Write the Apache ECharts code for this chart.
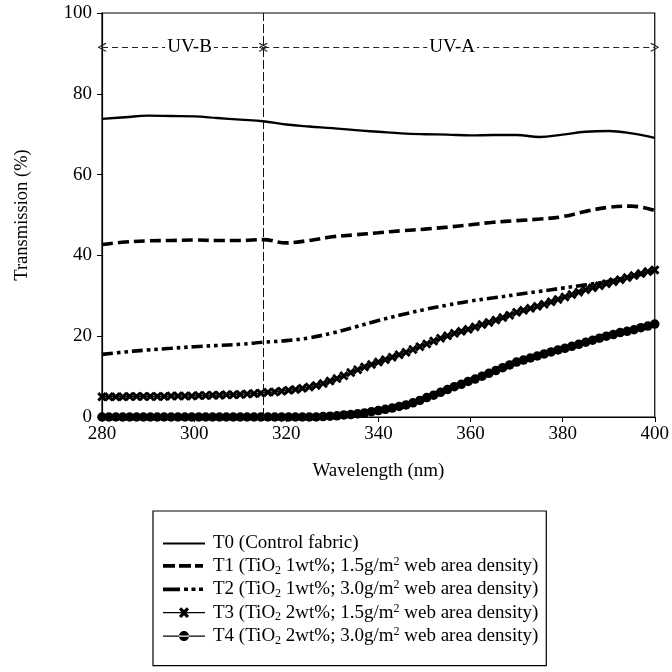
<!DOCTYPE html>
<html>
<head>
<meta charset="utf-8">
<script src="https://cdn.jsdelivr.net/npm/echarts@6/dist/echarts.min.js"></script>
<style>html,body{margin:0;padding:0;background:#fff;}#c{width:672px;height:672px;}</style>
</head>
<body>
<div id="c"></div>
<script>
// wavelengths (nm)
var wl5 = [280,285,290,295,300,305,310,315,320,325,330,335,340,345,350,355,360,365,370,375,380,385,390,395,400];
var wl15 = [280,281.5,283,284.5,286,287.5,289,290.5,292,293.5,295,296.5,298,299.5,301,302.5,304,305.5,307,308.5,310,311.5,313,314.5,316,317.5,319,320.5,322,323.5,325,326.5,328,329.5,331,332.5,334,335.5,337,338.5,340,341.5,343,344.5,346,347.5,349,350.5,352,353.5,355,356.5,358,359.5,361,362.5,364,365.5,367,368.5,370,371.5,373,374.5,376,377.5,379,380.5,382,383.5,385,386.5,388,389.5,391,392.5,394,395.5,397,398.5,400];

// transmission (%)
var T0 = [73.8,74.2,74.6,74.5,74.4,74.0,73.6,73.2,72.4,71.9,71.5,71.0,70.6,70.2,70.0,69.9,69.7,69.8,69.8,69.3,69.9,70.6,70.8,70.2,69.1];
var T1 = [42.7,43.3,43.6,43.7,43.8,43.7,43.7,43.9,43.1,43.7,44.6,45.1,45.6,46.1,46.5,47.0,47.6,48.2,48.6,49.0,49.6,50.9,51.9,52.2,51.1];
var T2 = [15.5,16.1,16.6,17.0,17.4,17.7,18.0,18.5,18.9,19.6,20.8,22.3,23.9,25.3,26.6,27.7,28.7,29.5,30.3,31.1,31.9,32.7,33.6,34.8,36.0];
var T3 = [5.0,5.0,5.0,5.0,5.1,5.1,5.1,5.1,5.1,5.1,
          5.2,5.2,5.2,5.2,5.3,5.3,5.4,5.4,5.5,5.5,
          5.6,5.7,5.8,5.9,6.1,6.2,6.4,6.6,6.8,7.1,
          7.4,7.8,8.3,8.9,9.5,10.2,11.0,11.7,12.4,13.0,
          13.6,14.2,14.8,15.4,16.0,16.7,17.4,18.1,18.8,19.5,
          20.1,20.7,21.2,21.7,22.3,22.9,23.4,24.0,24.6,25.2,
          25.9,26.4,26.9,27.4,27.9,28.5,29.1,29.7,30.3,30.9,
          31.5,32.0,32.5,33.0,33.5,34.0,34.5,35.0,35.5,36.0,
          36.4];
var T4 = [0,0,0,0,0,0,0,0,0,0,
          0,0,0,0,0,0,0,0,0,0,
          0,0,0,0,0,0,0,0,0,0,
          0,0,0.1,0.2,0.3,0.5,0.6,0.8,1.0,1.3,
          1.6,1.9,2.2,2.6,3.0,3.5,4.1,4.8,5.4,6.1,
          6.8,7.5,8.1,8.8,9.4,10.1,10.8,11.5,12.2,12.9,
          13.6,14.1,14.6,15.1,15.6,16.1,16.6,17.0,17.5,18.0,
          18.5,19.0,19.5,20.0,20.4,20.9,21.2,21.6,22.1,22.5,
          23.0];

var seriesNames = ['T0','T1','T2','T3','T4'];
var legendLabels = [
  'T0 (Control fabric)',
  'T1 (TiO{s|2} 1wt%; 1.5g/m{p|2} web area density)',
  'T2 (TiO{s|2} 1wt%; 3.0g/m{p|2} web area density)',
  'T3 (TiO{s|2} 2wt%; 1.5g/m{p|2} web area density)',
  'T4 (TiO{s|2} 2wt%; 3.0g/m{p|2} web area density)'
];
var xTicks = [280,300,320,340,360,380,400];
var yTicks = [0,20,40,60,80,100];
var boundary = 315;        // UV-B / UV-A boundary
var arrowLevel = 91.5;
var bands = [{name:'UV-B', from:280, to:315, labelAt:299}, {name:'UV-A', from:315, to:400, labelAt:356}];

function pairs(xs, ys){ return xs.map(function(x,i){ return [x, ys[i]]; }); }

var FONT = 'Liberation Serif';
var chev = 'path://M5,0L10,8.5L9,9.5L5,2.2L1,9.5L0,8.5Z';
var xMark = 'path://M0,2.2L2.2,0L5,2.8L7.8,0L10,2.2L7.2,5L10,7.8L7.8,10L5,7.2L2.2,10L0,7.8L2.8,5Z';

// legend icons drawn in a 42x14 box (corner specks keep the box size)
var corners = 'M0,0L0.05,0L0,0.05Z M42,14L41.95,14L42,13.95Z ';
function rect(x0,y0,x1,y1){ return 'M'+x0+','+y0+'L'+x1+','+y0+'L'+x1+','+y1+'L'+x0+','+y1+'Z '; }
var icons = [
  'path://' + corners + rect(0,6.0,42,8.0),
  'path://' + corners + rect(0,5.1,12,8.9) + rect(16,5.1,28,8.9) + rect(32,5.1,40,8.9),
  'path://' + corners + rect(0,5.1,17,8.9) + rect(21,5.3,25,8.7) + rect(28.5,5.3,32.5,8.7) + rect(36,5.3,40,8.7),
  'path://' + corners + rect(0,6.4,42,7.6) + 'M16,3.8L18.2,1.6L21,4.4L23.8,1.6L26,3.8L23.2,7L26,10.2L23.8,12.4L21,9.6L18.2,12.4L16,10.2L18.8,7Z',
  'path://' + corners + rect(0,6.4,42,7.6) + 'M16,7A5,5 0 1 0 26,7A5,5 0 1 0 16,7Z'
];

var chart = echarts.init(document.getElementById('c'), null, {renderer:'canvas'});
var option = {
  backgroundColor:'#fff',
  animation:false,
  grid:{left:102, right:14, top:13, bottom:255, show:true, borderColor:'#000', borderWidth:1.2, backgroundColor:'transparent'},
  xAxis:{
    type:'value', min:xTicks[0], max:xTicks[xTicks.length-1], interval:20,
    name:'Wavelength (nm)', nameLocation:'middle', nameGap:45,
    nameTextStyle:{fontFamily:FONT, fontSize:19, color:'#000'},
    axisLine:{lineStyle:{color:'#000', width:1.2}},
    axisTick:{show:true, length:5, lineStyle:{color:'#000'}},
    axisLabel:{fontFamily:FONT, fontSize:19, color:'#000', margin:8},
    splitLine:{show:false}
  },
  yAxis:{
    type:'value', min:yTicks[0], max:yTicks[yTicks.length-1], interval:20,
    name:'Transmission (%)', nameLocation:'middle', nameGap:70,
    nameTextStyle:{fontFamily:FONT, fontSize:18.5, color:'#000'},
    axisLine:{show:true, lineStyle:{color:'#000', width:1.2}},
    axisTick:{show:true, length:5, lineStyle:{color:'#000'}},
    axisLabel:{fontFamily:FONT, fontSize:19, color:'#000', margin:10},
    splitLine:{show:false}
  },
  legend:{
    orient:'vertical', left:153, top:511,
    data:seriesNames.map(function(n,i){ return {name:n, icon:icons[i]}; }),
    padding:[23,8,19,10],
    itemGap:2.9, itemWidth:42, itemHeight:14,
    borderColor:'#000', borderWidth:1.2,
    selectedMode:false,
    itemStyle:{color:'#000', borderWidth:0},
    formatter:function(n){ return legendLabels[seriesNames.indexOf(n)]; },
    textStyle:{fontFamily:FONT, fontSize:19, color:'#000', padding:[0,0,0,3],
      rich:{
        s:{fontFamily:FONT, fontSize:12, color:'#000', padding:[9,0,0,0]},
        p:{fontFamily:FONT, fontSize:12, color:'#000', padding:[0,0,8,0]}
      }}
  },
  series:[
    {name:'T0', type:'line', data:pairs(wl5,T0), smooth:0.4, showSymbol:false, symbol:'none',
      lineStyle:{color:'#000', width:2.4}, itemStyle:{color:'#000'},
      markLine:{silent:true, symbol:['none','none'], label:{show:false},
        lineStyle:{color:'#111', width:1, type:[9,3]},
        data:[[{coord:[boundary,yTicks[0]]},{coord:[boundary,yTicks[yTicks.length-1]]}]]}},
    {name:'T1', type:'line', data:pairs(wl5,T1), smooth:0.4, showSymbol:false, symbol:'none',
      lineStyle:{color:'#000', width:3.6, type:[11,5]}, itemStyle:{color:'#000'},
      markLine:{silent:true, symbol:[chev, chev], symbolSize:[9,9], label:{show:false},
        lineStyle:{color:'#222', width:1, type:[6,4]},
        data:bands.map(function(b){ return [{coord:[b.from,arrowLevel]},{coord:[b.to,arrowLevel]}]; })},
      markPoint:{silent:true, symbol:'rect', symbolSize:1, itemStyle:{color:'transparent'},
        label:{show:true, position:'inside', fontFamily:FONT, fontSize:19, color:'#000', backgroundColor:'#fff', padding:[0,2],
          formatter:function(p){ return p.name; }},
        data:bands.map(function(b){ return {name:b.name, coord:[b.labelAt, arrowLevel]}; })}},
    {name:'T2', type:'line', data:pairs(wl5,T2), smooth:0.4, showSymbol:false, symbol:'none',
      lineStyle:{color:'#000', width:3.6, type:[11,4,3.5,4,3.5,4]}, itemStyle:{color:'#000'}},
    {name:'T3', type:'line', data:pairs(wl15,T3), symbol:xMark, symbolSize:9.5, showSymbol:true,
      lineStyle:{color:'#000', width:1.4}, itemStyle:{color:'#000'}},
    {name:'T4', type:'line', data:pairs(wl15,T4), symbol:'circle', symbolSize:9.5, showSymbol:true,
      lineStyle:{color:'#000', width:1.4}, itemStyle:{color:'#000'}}
  ]
};
chart.setOption(option);
</script>
</body>
</html>
